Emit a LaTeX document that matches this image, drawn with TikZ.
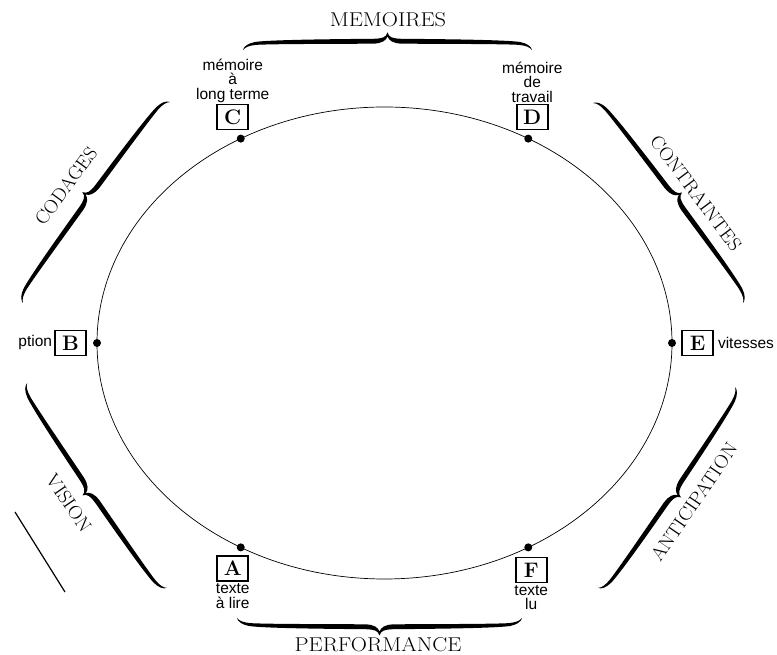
\documentclass[tikz,border=0pt]{standalone}
\usepackage{fontspec}
\usepackage{graphicx}
\usetikzlibrary{positioning}
\newfontfamily\labelfont{Liberation Sans}

% brace, drawn filled: centre x, centre y, angle, half length
\newcommand\curly[4]{%
  \begin{scope}[shift={(#1,#2)}, rotate=#3]
    \fill (0,17.5) .. controls (1.5,12.5) and (5,11.5) .. (14,11.2)
      .. controls ({0.45*#4},10.8) and ({#4-25},10) .. ({#4-12},8)
      .. controls ({#4-5},6.6) and ({#4-1},3.8) .. ({#4},0)
      .. controls ({#4-2.5},3) and ({#4-6},4.4) .. ({#4-13},5.1)
      .. controls ({#4-25},6) and ({0.45*#4},6.1) .. (14,6.3)
      .. controls (5,6.8) and (1.5,9.5) .. (0,13.5)
      .. controls (-1.5,9.5) and (-5,6.8) .. (-14,6.3)
      .. controls ({-0.45*#4},6.1) and ({-#4+25},6) .. ({-#4+13},5.1)
      .. controls ({-#4+6},4.4) and ({-#4+2.5},3) .. ({-#4},0)
      .. controls ({-#4+1},3.8) and ({-#4+5},6.6) .. ({-#4+12},8)
      .. controls ({-#4+25},10) and ({-0.45*#4},10.8) .. (-14,11.2)
      .. controls (-5,11.5) and (-1.5,12.5) .. (0,17.5) -- cycle;
  \end{scope}}

\newcommand\widecaps[1]{\scalebox{1.12}[1]{#1}}
\newcommand\slantcaps[1]{\scalebox{1.05}[1]{#1}}

\tikzset{
  stage/.style={circle, fill=black, inner sep=0pt, minimum size=8pt},
  letterbox/.style={draw, line width=1.6pt, minimum width=31pt, minimum height=25pt,
    inner sep=0pt, font=\fontsize{21}{22}\selectfont\bfseries},
  note/.style={align=center, inner sep=1pt, font=\labelfont\fontsize{15.5}{14.5}\selectfont},
  topic/.style={inner sep=0pt, font=\fontsize{20}{22}\selectfont},
  slanted topic/.style={inner sep=0pt, font=\fontsize{19}{21}\selectfont},
}

\begin{document}
\begin{tikzpicture}[x=1pt, y=1pt]
  \useasboundingbox (0,0) rectangle (777,655);

  % the cycle
  \coordinate (ctr) at (384.5,312);
  \draw[line width=0.7pt] (ctr) ellipse [x radius=287.5, y radius=236];
  \foreach \name/\ang in {E/0, D/60, C/120, B/180, A/240, F/300}
    \node[stage] (\name) at ([shift={(\ang:287.5 and 236)}]ctr) {};

  % stages
  \node[letterbox, above=4pt of C, xshift=-8pt] (boxC) {C};
  \node[letterbox, above=4pt of D, xshift=4pt] (boxD) {D};
  \node[letterbox, left=6pt of B] (boxB) {B};
  \node[letterbox, right=5pt of E] (boxE) {E};
  \node[letterbox, below=3.5pt of A, xshift=-8pt] (boxA) {A};
  \node[letterbox, below=5pt of F, xshift=3pt] (boxF) {F};

  \node[note, above=0pt of boxC] (longterme) {mémoire\\à\\long terme};
  \node[note, above=0pt of boxD] (travail) {mémoire\\de\\travail};
  \node[note, left=1pt of boxB] (ption) {ption};
  \node[note, right=3pt of boxE] (vitesses) {vitesses};
  \node[note, below=1pt of boxA] (alire) {texte\\à lire};
  \node[note, below=1pt of boxF] (lu) {texte\\lu};

  % braces round the cycle
  \curly{387.5}{605}{0}{144.5}
  \curly{379.5}{37}{180}{142.5}
  \curly{96.5}{452.5}{53.8}{124.5}
  \curly{668}{452}{-53.1}{125}
  \curly{97}{169.5}{124.3}{124}
  \curly{666.5}{167.5}{-124.3}{121.6}

  \node[topic] (memoires) at (388,635) {\widecaps{MEMOIRES}};
  \node[topic] (performance) at (378,10) {\widecaps{PERFORMANCE}};
  \node[slanted topic, rotate=53.8] (codages) at (66,469) {\slantcaps{CODAGES}};
  \node[slanted topic, rotate=-53.1] (contraintes) at (696,462) {\slantcaps{CONTRAINTES}};
  \node[slanted topic, rotate=-55.7] (vision) at (69,152) {\slantcaps{VISION}};
  \node[slanted topic, rotate=55.7] (anticipation) at (694,153) {\slantcaps{ANTICIPATION}};

  % stray stroke, lower left
  \coordinate (s1) at (15,143);
  \coordinate (s2) at (65,63);
  \draw[line width=1.2pt] (s1) -- (s2);
\end{tikzpicture}
\end{document}
